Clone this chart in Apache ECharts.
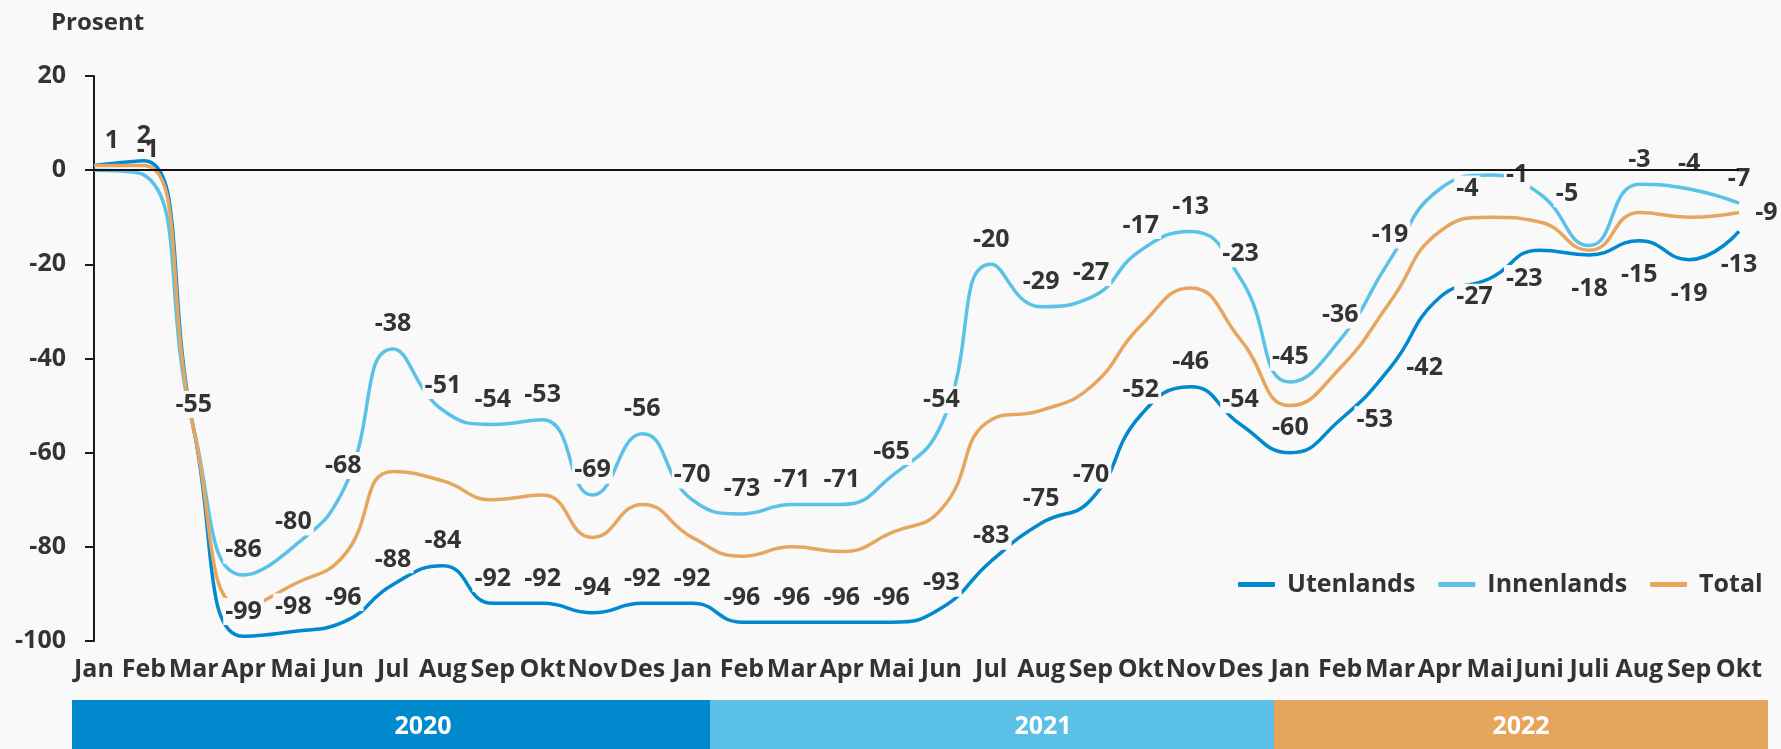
<!DOCTYPE html>
<html><head><meta charset="utf-8">
<script src="https://cdn.jsdelivr.net/npm/echarts@6/dist/echarts.min.js"></script>
<style>html,body{margin:0;padding:0;background:#f9f9f9}#c{width:1781px;height:749px}</style>
</head><body><div id="c"></div>
<script>
// ---- data ----
const months = ['Jan','Feb','Mar','Apr','Mai','Jun','Jul','Aug','Sep','Okt','Nov','Des',
                'Jan','Feb','Mar','Apr','Mai','Jun','Jul','Aug','Sep','Okt','Nov','Des',
                'Jan','Feb','Mar','Apr','Mai','Juni','Juli','Aug','Sep','Okt'];
const utenlands  = [1, 2, -55, -99, -98, -96, -88, -84, -92, -92, -94, -92,
                    -92, -96, -96, -96, -96, -93, -83, -75, -70, -52, -46, -54,
                    -60, -53, -42, -27, -23, -17, -18, -15, -19, -13];
const innenlands = [0, -1, -55, -86, -80, -68, -38, -51, -54, -53, -69, -56,
                    -70, -73, -71, -71, -65, -54, -20, -29, -27, -17, -13, -23,
                    -45, -36, -19, -4, -1, -5, -16, -3, -4, -7];
const total      = [1, 1, -55, -93, -88, -82, -64, -66, -70, -69, -78, -71,
                    -78, -82, -80, -81, -77, -72, -53, -51, -46, -33, -25, -36,
                    -50, -42, -28, -13, -10, -11, -17, -9, -10, -9];
const seriesNames = ['Utenlands', 'Innenlands', 'Total'];
const years = ['2020', '2021', '2022'];
const yTicks = { min: -100, max: 20, interval: 20 };

// ---- label placement codes (style, not data): t top, T top shifted, n top no background, r right, b bottom, - none ----
const utLabelPos = ['T','t','t','t','t','t','t','t','t','t','t','t',
                    't','t','t','t','t','t','t','t','t','t','t','t',
                    't','r','r','r','r','-','b','b','b','b'];
const inLabelPos = ['-','n','-','t','t','t','t','t','t','t','t','t',
                    't','t','t','t','t','t','t','t','t','t','t','t',
                    't','t','t','r','r','r','-','t','t','t'];
const toLabelPos = months.map((m, i) => i === months.length - 1 ? 'r' : '-');

// ---- style ----
const BG = '#f9f9f9';
const FONT = '"Open Sans", "Noto Sans", sans-serif';
const TXT = '#333333';
const colors = ['#0089cf', '#5bc1e7', '#e6a65e'];
const yearColors = ['#0089cd', '#5bc0e6', '#e5a55d'];
const LABEL = {
  t: { position: 'top', distance: 11 },
  T: { position: 'top', distance: 11, offset: [18, 0] },
  n: { position: 'top', distance: 11, offset: [4, 0], backgroundColor: 'transparent' },
  r: { position: 'right', distance: 14 },
  b: { position: 'bottom', distance: 20 }
};
function items(values, codes) {
  return values.map((v, i) => {
    const c = codes[i];
    if (c === '-') return { value: v, label: { show: false } };
    return { value: v, label: Object.assign({ show: true }, LABEL[c]) };
  });
}
const baseLabel = {
  show: false, fontFamily: FONT, fontSize: 25, fontWeight: 'bold', color: TXT,
  backgroundColor: BG, padding: [1, 2], formatter: '{c}'
};
function mkSeries(name, values, codes, color, extra) {
  return Object.assign({
    name: name, type: 'line', smooth: true, data: items(values, codes),
    symbol: 'circle', symbolSize: 0.5, showSymbol: true,
    itemStyle: { color: color },
    lineStyle: { color: color, width: 3.5 },
    label: baseLabel, emphasis: { disabled: true }, animation: false
  }, extra || {});
}

// year band layout (decoration)
const band = { y: 700, h: 49, edges: [72, 710, 1274, 1768], textX: [423, 1043, 1521] };
const graphic = [];
years.forEach((yr, i) => {
  graphic.push({ type: 'rect', silent: true,
    shape: { x: band.edges[i], y: band.y, width: band.edges[i + 1] - band.edges[i], height: band.h },
    style: { fill: yearColors[i] } });
});
years.forEach((yr, i) => {
  graphic.push({ type: 'text', silent: true, z: 10,
    style: { text: yr, x: band.textX[i], y: band.y + band.h / 2 + 2, align: 'center', verticalAlign: 'middle',
      fill: '#ffffff', font: 'bold 25px ' + FONT } });
});

const chart = echarts.init(document.getElementById('c'), null, { renderer: 'canvas' });
chart.setOption({
  backgroundColor: BG,
  animation: false,
  title: { text: 'Prosent', left: 46, top: 6,
    textStyle: { fontFamily: FONT, fontSize: 24, fontWeight: 'bold', color: TXT } },
  grid: { left: 94, right: 42, top: 76, bottom: 108, containLabel: false },
  legend: {
    data: seriesNames, left: 1233, top: 567, icon: 'roundRect', itemWidth: 37, itemHeight: 5,
    itemGap: 23, selectedMode: false,
    textStyle: { fontFamily: FONT, fontSize: 25, fontWeight: 'bold', color: TXT, padding: [0, 0, 0, 7] }
  },
  xAxis: {
    type: 'category', data: months, boundaryGap: false,
    axisLine: { show: false, onZero: false }, axisTick: { show: false },
    axisLabel: { interval: 0, margin: 16, fontFamily: FONT, fontSize: 25, fontWeight: 'bold', color: TXT },
    splitLine: { show: false }
  },
  yAxis: {
    type: 'value', min: yTicks.min, max: yTicks.max, interval: yTicks.interval,
    axisLine: { show: true, lineStyle: { color: '#1a1a1a', width: 2 } },
    axisTick: { show: true, inside: false, length: 9, lineStyle: { color: '#1a1a1a', width: 2 } },
    axisLabel: { margin: 28, fontFamily: FONT, fontSize: 25, fontWeight: 'bold', color: TXT },
    splitLine: { show: false }
  },
  series: [
    mkSeries(seriesNames[0], utenlands, utLabelPos, colors[0], {
      markLine: { silent: true, symbol: 'none', animation: false,
        label: { show: false }, lineStyle: { color: '#111', width: 2, type: 'solid' },
        data: [{ yAxis: 0 }] }
    }),
    mkSeries(seriesNames[1], innenlands, inLabelPos, colors[1]),
    mkSeries(seriesNames[2], total, toLabelPos, colors[2])
  ],
  graphic: graphic
});
</script></body></html>
